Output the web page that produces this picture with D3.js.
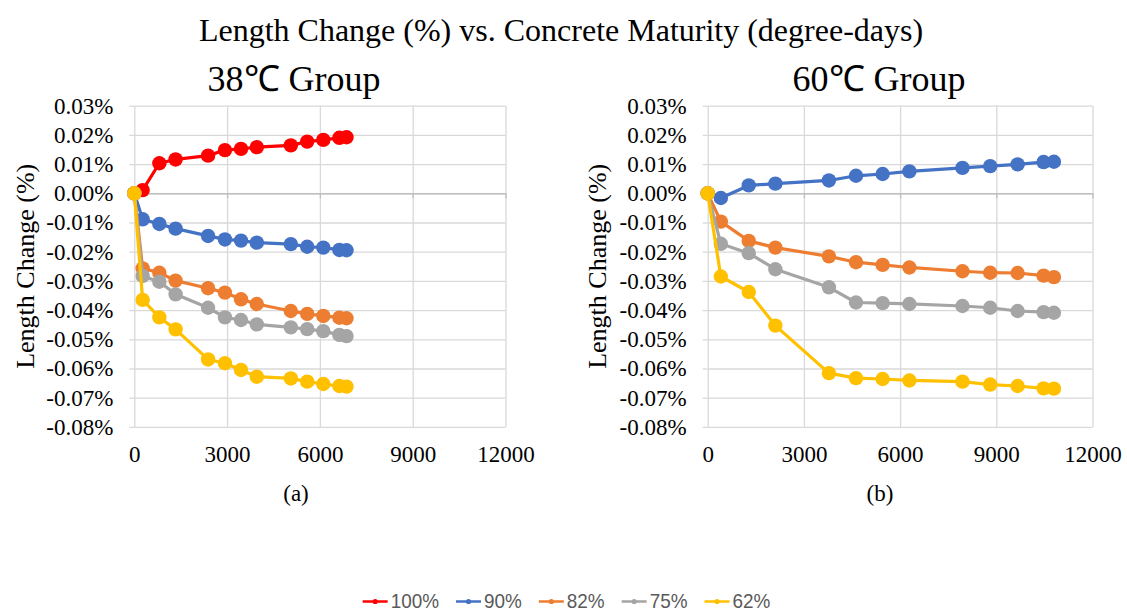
<!DOCTYPE html>
<html>
<head>
<meta charset="utf-8">
<script src="https://cdn.jsdelivr.net/npm/d3@7"></script>
<style>
  body { margin: 0; background: #fff; }
</style>
</head>
<body>
<svg id="chart" width="1127" height="612"></svg>
<script>
// maturity (degree-days) at each reading
const maturity38 = [0, 270, 810, 1335, 2385, 2930, 3450, 3960, 5060, 5590, 6110, 6630, 6860];
const maturity60 = [0, 410, 1280, 2110, 3780, 4625, 5455, 6290, 7945, 8810, 9665, 10475, 10797];

const seriesNames = ["100%", "90%", "82%", "75%", "62%"];
const seriesColors = ["#ff0000", "#4472c4", "#ed7d31", "#a5a5a5", "#ffc000"];

// length change (%), 38C group
const rh100_38 = [0, 0.0011, 0.0103, 0.0116, 0.0129, 0.0148, 0.0152, 0.0158, 0.0164, 0.0177, 0.0183, 0.0190, 0.0192];
const rh90_38 = [0, -0.0089, -0.0105, -0.0121, -0.0146, -0.0158, -0.0162, -0.0169, -0.0174, -0.0183, -0.0186, -0.0194, -0.0195];
const rh82_38 = [0, -0.0257, -0.0272, -0.0299, -0.0325, -0.0340, -0.0363, -0.0379, -0.0403, -0.0413, -0.0420, -0.0426, -0.0428];
const rh75_38 = [0, -0.0283, -0.0303, -0.0346, -0.0392, -0.0425, -0.0434, -0.0449, -0.0459, -0.0465, -0.0472, -0.0485, -0.0489];
const rh62_38 = [0, -0.0365, -0.0425, -0.0466, -0.0569, -0.0582, -0.0605, -0.0628, -0.0634, -0.0645, -0.0653, -0.0660, -0.0662];

// length change (%), 60C group (no 100% series)
const rh90_60 = [0, -0.0016, 0.0027, 0.0033, 0.0044, 0.0060, 0.0066, 0.0075, 0.0087, 0.0093, 0.0099, 0.0107, 0.0108];
const rh82_60 = [0, -0.0097, -0.0163, -0.0186, -0.0216, -0.0236, -0.0245, -0.0254, -0.0267, -0.0272, -0.0273, -0.0282, -0.0287];
const rh75_60 = [0, -0.0173, -0.0205, -0.0260, -0.0322, -0.0374, -0.0376, -0.0379, -0.0386, -0.0392, -0.0403, -0.0407, -0.0409];
const rh62_60 = [0, -0.0285, -0.0338, -0.0453, -0.0616, -0.0633, -0.0636, -0.0641, -0.0645, -0.0655, -0.0660, -0.0668, -0.0669];

const xTicks = [0, 3000, 6000, 9000, 12000];
const yTicks = [0.03, 0.02, 0.01, 0, -0.01, -0.02, -0.03, -0.04, -0.05, -0.06, -0.07, -0.08];

const serif = "'Liberation Serif', 'Times New Roman', serif";
const svg = d3.select("#chart");

function fmtPct(d) {
    return d.toFixed(2) + "%";
}

function serifText(sel, size) {
    sel.style("font-family", serif).style("font-size", size + "px").style("fill", "#000");
}

function drawPanel(p) {
    let x = d3.scaleLinear().domain([0, 12000]).range([p.left, p.right]);
    let y = d3.scaleLinear().domain([-0.08, 0.03]).range([p.bottom, p.top]);
    let g = svg.append("g");

    // horizontal gridlines
    g.append("g")
        .attr("transform", "translate(" + p.left + ",0)")
        .call(d3.axisLeft(y).tickValues(yTicks).tickSizeInner(-(p.right - p.left)).tickSizeOuter(0).tickFormat(""))
        .call(a => a.selectAll(".tick line").attr("stroke", "#d9d9d9").attr("stroke-width", 1.3))
        .call(a => a.select(".domain").attr("stroke", "#d9d9d9").attr("stroke-width", 1.3));
    // y labels with small outside ticks
    g.append("g")
        .attr("transform", "translate(" + p.left + ",0)")
        .call(d3.axisLeft(y).tickValues(yTicks).tickSize(5).tickPadding(16).tickFormat(fmtPct))
        .call(a => a.select(".domain").remove())
        .call(a => a.selectAll(".tick line").attr("stroke", "#d9d9d9").attr("stroke-width", 1.3))
        .call(a => serifText(a.selectAll("text"), 23));

    // vertical gridlines
    g.append("g")
        .attr("transform", "translate(0," + p.bottom + ")")
        .call(d3.axisBottom(x).tickValues(xTicks.slice(1)).tickSize(-(p.bottom - p.top)).tickFormat(""))
        .call(a => a.select(".domain").remove())
        .call(a => a.selectAll(".tick line").attr("stroke", "#d9d9d9").attr("stroke-width", 1.3));

    // x labels sit below the plot
    g.append("g")
        .attr("transform", "translate(0," + p.bottom + ")")
        .call(d3.axisBottom(x).tickValues(xTicks).tickSize(0).tickPadding(19).tickFormat(d3.format("d")))
        .call(a => a.select(".domain").remove())
        .call(a => serifText(a.selectAll("text"), 23));

    // horizontal axis crosses at zero
    g.append("g")
        .attr("transform", "translate(0," + y(0) + ")")
        .call(d3.axisBottom(x).tickValues(xTicks).tickSizeInner(5).tickSizeOuter(0).tickFormat(""))
        .call(a => a.select(".domain").attr("stroke", "#bfbfbf").attr("stroke-width", 1.5))
        .call(a => a.selectAll(".tick line").attr("stroke", "#bfbfbf").attr("stroke-width", 1.3));

    let line = d3.line().x(d => x(d[0])).y(d => y(d[1]));
    p.series.forEach(function (s) {
        let pts = p.maturity.map((m, i) => [m, s.values[i]]);
        g.append("path")
            .datum(pts)
            .attr("d", line)
            .attr("fill", "none")
            .attr("stroke", s.color)
            .attr("stroke-width", 3.2)
            .attr("stroke-linejoin", "round");
        g.selectAll(null)
            .data(pts)
            .enter()
            .append("circle")
            .attr("cx", d => x(d[0]))
            .attr("cy", d => y(d[1]))
            .attr("r", 7.2)
            .attr("fill", s.color);
    });

    // axis title
    g.append("text")
        .attr("transform", "translate(" + p.yTitleX + "," + (p.top + p.bottom) / 2 + ") rotate(-90)")
        .attr("text-anchor", "middle")
        .attr("dy", "0.35em")
        .call(t => serifText(t, 26))
        .text("Length Change (%)");

    g.append("text")
        .attr("x", p.titleX)
        .attr("y", 91)
        .attr("text-anchor", "middle")
        .call(t => serifText(t, 36))
        .text(p.title);

    g.append("text")
        .attr("x", p.capX)
        .attr("y", 501)
        .attr("text-anchor", "middle")
        .call(t => serifText(t, 23))
        .text(p.caption);
}

svg.append("text")
    .attr("x", 561)
    .attr("y", 41)
    .attr("text-anchor", "middle")
    .call(t => serifText(t, 32))
    .text("Length Change (%) vs. Concrete Maturity (degree-days)");

drawPanel({
    left: 134.3, right: 505.5, top: 105.7, bottom: 426.9,
    yTitleX: 25, titleX: 294, capX: 296,
    title: "38\u2103 Group", caption: "(a)",
    maturity: maturity38,
    series: [
        { values: rh100_38, color: seriesColors[0] },
        { values: rh90_38, color: seriesColors[1] },
        { values: rh82_38, color: seriesColors[2] },
        { values: rh75_38, color: seriesColors[3] },
        { values: rh62_38, color: seriesColors[4] }
    ]
});

drawPanel({
    left: 707.7, right: 1092.5, top: 105.7, bottom: 426.9,
    yTitleX: 597, titleX: 879, capX: 880,
    title: "60\u2103 Group", caption: "(b)",
    maturity: maturity60,
    series: [
        { values: rh90_60, color: seriesColors[1] },
        { values: rh82_60, color: seriesColors[2] },
        { values: rh75_60, color: seriesColors[3] },
        { values: rh62_60, color: seriesColors[4] }
    ]
});

// legend, laid out left to right then centred
let legend = svg.append("g");
let cursor = 0;
seriesNames.forEach(function (name, i) {
    let item = legend.append("g").attr("transform", "translate(" + cursor + ",0)");
    item.append("line")
        .attr("x1", 0).attr("x2", 25)
        .attr("y1", 0).attr("y2", 0)
        .attr("stroke", seriesColors[i])
        .attr("stroke-width", 2.5);
    item.append("circle")
        .attr("cx", 12.5).attr("cy", 0).attr("r", 2.6)
        .attr("fill", seriesColors[i]);
    let t = item.append("text")
        .attr("x", 28)
        .attr("dy", "0.33em")
        .style("font-family", "'Liberation Sans', Arial, sans-serif")
        .style("fill", "#595959")
        .style("font-size", "21px")
        .text(name);
    // squeeze a little, the original uses a narrow face
    let w = t.node().getComputedTextLength() * 0.9;
    t.attr("textLength", w).attr("lengthAdjust", "spacingAndGlyphs");
    cursor += 28 + w + 17;
});
cursor -= 17;
legend.attr("transform", "translate(" + (566.5 - cursor / 2) + ",601.5)");
</script>
</body>
</html>
